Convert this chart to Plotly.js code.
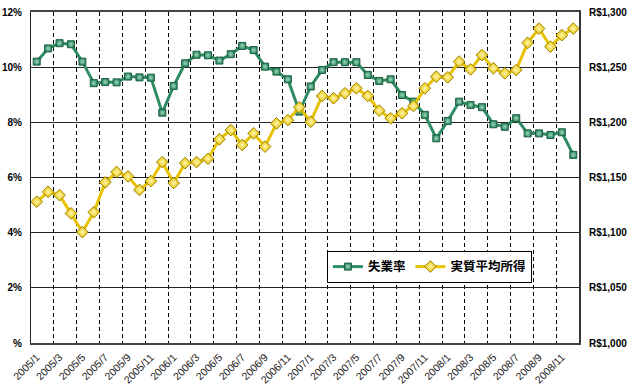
<!DOCTYPE html>
<html><head><meta charset="utf-8">
<script src="https://cdn.plot.ly/plotly-3.0.1.min.js"></script>
<style>html,body{margin:0;padding:0;background:#fff}#c{width:631px;height:392px}</style>
</head><body><div id="c"></div>
<script>
const months = [];
for (let y = 2005; y <= 2008; y++) for (let m = 1; m <= 12; m++) months.push(y + "/" + m);
const unemployment = [10.2,10.68,10.87,10.83,10.2,9.42,9.46,9.45,9.66,9.63,9.62,8.35,
  9.32,10.14,10.45,10.43,10.24,10.47,10.77,10.62,10.02,9.84,9.56,8.39,
  9.3,9.9,10.18,10.18,10.18,9.72,9.5,9.56,8.99,8.75,8.27,7.42,
  8.05,8.75,8.63,8.55,7.93,7.84,8.15,7.6,7.6,7.54,7.64,6.82];
const income = [1128,1137,1134,1117.5,1100.5,1118.5,1145.6,1155,1151,1138.7,1146.8,1164,
  1145,1163,1164,1167,1184.6,1193,1179.5,1190,1178,1199,1202,1213.6,
  1200.6,1223.9,1221.8,1226.3,1230.8,1223.9,1210.6,1203.7,1208.2,1214.8,1230.8,1241.4,
  1240.8,1255,1248,1261,1249,1244.4,1247.4,1272,1285,1268.6,1279,1285];
const leftTickVals = [0,2,4,6,8,10,12];
const leftTickText = ["%","2%","4%","6%","8%","10%","12%"];
const rightTickVals = [1000,1050,1100,1150,1200,1250,1300];
const rightTickText = ["R$1,000","R$1,050","R$1,100","R$1,150","R$1,200","R$1,250","R$1,300"];
const seriesNames = ["失業率","実質平均所得"];

const idx = months.map((_, i) => i);
const xTickVals = idx.filter(i => i % 2 === 0);
const xTickText = xTickVals.map(i => months[i]);

const green = "#2e8b63", yellow = "#e8c200";
const traces = [
  {x: idx, y: unemployment, name: seriesNames[0], type: "scatter", mode: "lines+markers",
   line: {color: green, width: 3},
   marker: {symbol: "square", size: 7, color: green, line: {color: "#1d5e40", width: 1},
            gradient: {type: "radial", color: "#9fd9bd"}},
   yaxis: "y"},
  {x: idx, y: income, name: seriesNames[1], type: "scatter", mode: "lines+markers",
   line: {color: yellow, width: 3},
   marker: {symbol: "diamond", size: 9, color: yellow, line: {color: "#a08400", width: 1},
            gradient: {type: "radial", color: "#fff6b0"}},
   yaxis: "y2"}
];
const tickFont = {family: "Liberation Sans, Arial, sans-serif", size: 10, color: "#000", weight: "bold"};
const layout = {
  width: 631, height: 392,
  margin: {l: 31, r: 52, t: 12, b: 49},
  paper_bgcolor: "#fff", plot_bgcolor: "#fff",
  showlegend: true,
  legend: {x: 0.54, y: 0.278, xanchor: "left", yanchor: "top", orientation: "h",
    bgcolor: "#fff", bordercolor: "#000", borderwidth: 1, itemwidth: 30,
    font: {family: "Noto Sans CJK JP", size: 12.5, color: "#000", weight: "bold"}},
  xaxis: {range: [-0.5, 47.5], tickmode: "array", tickvals: xTickVals, ticktext: xTickText,
    tickangle: -45, showgrid: false, zeroline: false, ticks: "", ticklabelstandoff: 2,
    tickfont: {family: "Liberation Sans, Arial, sans-serif", size: 10.5, color: "#222"},
    showline: true, linecolor: "#444", linewidth: 2, mirror: true,
    minor: {tick0: 1.5, dtick: 2, showgrid: true, griddash: "4px,3px", gridcolor: "#000", gridwidth: 1, ticks: ""}},
  yaxis: {range: [0, 12], tickmode: "array", tickvals: leftTickVals, ticktext: leftTickText,
    showgrid: true, gridcolor: "#222", gridwidth: 1, zeroline: false, ticks: "",
    showline: true, linecolor: "#222", linewidth: 1, tickfont: tickFont, ticklabelstandoff: 6},
  yaxis2: {range: [1000, 1300], overlaying: "y", side: "right", tickmode: "array",
    tickvals: rightTickVals, ticktext: rightTickText, showgrid: false, zeroline: false,
    ticks: "", showline: true, linecolor: "#333", linewidth: 2, tickfont: tickFont, ticklabelstandoff: 6}
};
Plotly.newPlot("c", traces, layout, {displayModeBar: false, staticPlot: true});
</script></body></html>
